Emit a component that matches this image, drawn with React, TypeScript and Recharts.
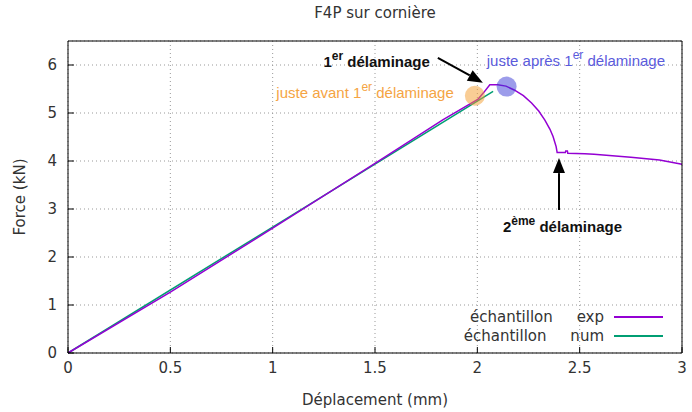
import React from 'react';
import {
  LineChart,
  Line,
  XAxis,
  YAxis,
  CartesianGrid,
  ReferenceDot,
  ReferenceLine,
  Legend,
} from 'recharts';

// displacement (mm) / force (kN)
const xTicks = [0, 0.5, 1, 1.5, 2, 2.5, 3];
const yTicks = [0, 1, 2, 3, 4, 5, 6];

const expDisp = [
  0, 0.5, 1.0, 1.5, 1.833, 2.004, 2.03, 2.061, 2.1, 2.14, 2.18, 2.225, 2.265, 2.3, 2.33,
  2.355, 2.37, 2.385, 2.39, 2.43, 2.432, 2.44, 2.442, 2.525, 2.57, 2.75, 2.89, 3.0,
];
const expForce = [
  0, 1.27, 2.6, 3.95, 4.86, 5.29, 5.42, 5.59, 5.59, 5.56, 5.48, 5.36, 5.21, 5.04, 4.85,
  4.66, 4.51, 4.3, 4.175, 4.175, 4.21, 4.21, 4.16, 4.15, 4.14, 4.08, 4.02, 3.93,
];
const numDisp = [0, 2.077];
const numForce = [0, 5.45];

const GAP = '\u00a0\u00a0\u00a0\u00a0\u00a0';
const legendItems = [
  { label: 'échantillon' + GAP + 'exp', color: '#9400d3' },
  { label: 'échantillon' + GAP + 'num', color: '#009e73' },
];

const expData = expDisp.map((x, i) => ({ x, f: expForce[i] }));
const numData = numDisp.map((x, i) => ({ x, f: numForce[i] }));

const FONT = '"DejaVu Sans", sans-serif';
const ANNOT = '"Liberation Sans", Arial, sans-serif';
const TEXT = '#333';

// text with a superscript part, drawn at the reference dot position
const supLabel =
  (lead: string, sup: string, rest: string, color: string, bold: boolean, anchor: 'start' | 'end') =>
  (p: any) => (
    <text
      x={p.cx}
      y={p.cy}
      fill={color}
      fontFamily={ANNOT}
      fontSize={15}
      fontWeight={bold ? 'bold' : 'normal'}
      textAnchor={anchor}
      style={{ whiteSpace: 'pre' }}
    >
      {lead}
      <tspan dy={-7} fontSize={12}>
        {sup}
      </tspan>
      <tspan dy={7}>{' ' + rest}</tspan>
    </text>
  );

const arrow = (p: any) => {
  const { x1, y1, x2, y2 } = p;
  const a = Math.atan2(y2 - y1, x2 - x1);
  const len = 15;
  const w = 6;
  const bx = x2 - len * Math.cos(a);
  const by = y2 - len * Math.sin(a);
  const nx = -Math.sin(a) * w;
  const ny = Math.cos(a) * w;
  return (
    <g>
      <line x1={x1} y1={y1} x2={bx} y2={by} stroke="#000" strokeWidth={2} />
      <polygon points={`${x2},${y2} ${bx + nx},${by + ny} ${bx - nx},${by - ny}`} fill="#000" />
    </g>
  );
};

const renderLegend = () => (
  <div style={{ fontFamily: FONT, fontSize: 15, color: TEXT }}>
    {legendItems.map((s) => (
      <div
        key={s.label}
        style={{ display: 'flex', alignItems: 'center', justifyContent: 'flex-end', height: 19 }}
      >
        <span style={{ whiteSpace: 'pre' }}>{s.label}</span>
        <span
          style={{
            display: 'inline-block',
            width: 49,
            height: 2,
            background: s.color,
            marginLeft: 10,
          }}
        />
      </div>
    ))}
  </div>
);

const tickStyle = { fontFamily: FONT, fontSize: 15, fill: TEXT };

export default function App() {
  return (
    <div style={{ position: 'absolute', left: 0, top: 0, background: '#fff' }}>
      <LineChart width={692} height={412} margin={{ top: 40, right: 9, left: 0, bottom: 0 }}>
        <CartesianGrid stroke="#999" strokeDasharray="1 3" />
        <XAxis
          dataKey="x"
          type="number"
          domain={[0, 3]}
          ticks={xTicks}
          interval={0}
          height={59}
          tickSize={-6}
          tickMargin={15}
          tick={tickStyle}
          axisLine={{ stroke: '#000' }}
          tickLine={{ stroke: '#000' }}
          label={{
            content: (p: any) => (
              <text
                x={p.viewBox.x + p.viewBox.width / 2}
                y={p.viewBox.y + 52}
                textAnchor="middle"
                fontFamily={FONT}
                fontSize={15}
                fill={TEXT}
              >
                Déplacement (mm)
              </text>
            ),
          }}
        />
        <XAxis
          xAxisId="top"
          orientation="top"
          dataKey="x"
          type="number"
          domain={[0, 3]}
          ticks={xTicks}
          interval={0}
          height={1}
          tickSize={-6}
          tick={false}
          axisLine={{ stroke: '#000' }}
          tickLine={{ stroke: '#000' }}
          label={{
            content: (p: any) => (
              <text
                x={p.viewBox.x + p.viewBox.width / 2}
                y={18}
                textAnchor="middle"
                fontFamily={FONT}
                fontSize={15}
                fill={TEXT}
              >
                F4P sur cornière
              </text>
            ),
          }}
        />
        <YAxis
          type="number"
          domain={[0, 6.5]}
          ticks={yTicks}
          interval={0}
          width={68}
          tickSize={-6}
          tickMargin={17}
          tick={tickStyle}
          axisLine={{ stroke: '#000' }}
          tickLine={{ stroke: '#000' }}
          label={{
            content: (p: any) => {
              const cy = p.viewBox.y + p.viewBox.height / 2;
              return (
                <text
                  x={25}
                  y={cy}
                  transform={`rotate(-90 25 ${cy})`}
                  textAnchor="middle"
                  fontFamily={FONT}
                  fontSize={15}
                  fill={TEXT}
                >
                  Force (kN)
                </text>
              );
            },
          }}
        />
        <YAxis
          yAxisId="right"
          orientation="right"
          type="number"
          domain={[0, 6.5]}
          ticks={yTicks}
          interval={0}
          width={1}
          tickSize={-6}
          tick={false}
          axisLine={{ stroke: '#000' }}
          tickLine={{ stroke: '#000' }}
        />
        <Legend
          layout="horizontal"
          verticalAlign="middle"
          align="center"
          content={renderLegend}
          wrapperStyle={{ left: 440, top: 307, width: 223 }}
        />

        <ReferenceDot x={1.988} y={5.36} r={10} fill="#f39c2c" fillOpacity={0.5} stroke="none" />
        <ReferenceDot x={2.143} y={5.55} r={10} fill="#3a3ad6" fillOpacity={0.5} stroke="none" />

        <Line
          data={numData}
          dataKey="f"
          stroke="#009e73"
          strokeWidth={1.5}
          dot={false}
          isAnimationActive={false}
        />
        <Line
          data={expData}
          dataKey="f"
          stroke="#9400d3"
          strokeWidth={1.5}
          dot={false}
          isAnimationActive={false}
        />

        <ReferenceLine
          segment={[
            { x: 1.807, y: 6.15 },
            { x: 2.027, y: 5.63 },
          ]}
          shape={arrow}
        />
        <ReferenceLine
          segment={[
            { x: 2.399, y: 2.98 },
            { x: 2.399, y: 4.06 },
          ]}
          shape={arrow}
        />

        <ReferenceDot x={1.768} y={5.96} r={0} shape={supLabel('1', 'er', 'délaminage', '#111', true, 'end')} />
        <ReferenceDot
          x={2.046}
          y={5.985}
          r={0}
          shape={supLabel('juste après 1', 'er', 'délaminage', '#5b5bdc', false, 'start')}
        />
        <ReferenceDot
          x={1.885}
          y={5.32}
          r={0}
          shape={supLabel('juste avant 1', 'er', 'délaminage', '#f5a443', false, 'end')}
        />
        <ReferenceDot
          x={2.125}
          y={2.52}
          r={0}
          shape={supLabel('2', 'ème', 'délaminage', '#111', true, 'start')}
        />
      </LineChart>
    </div>
  );
}
